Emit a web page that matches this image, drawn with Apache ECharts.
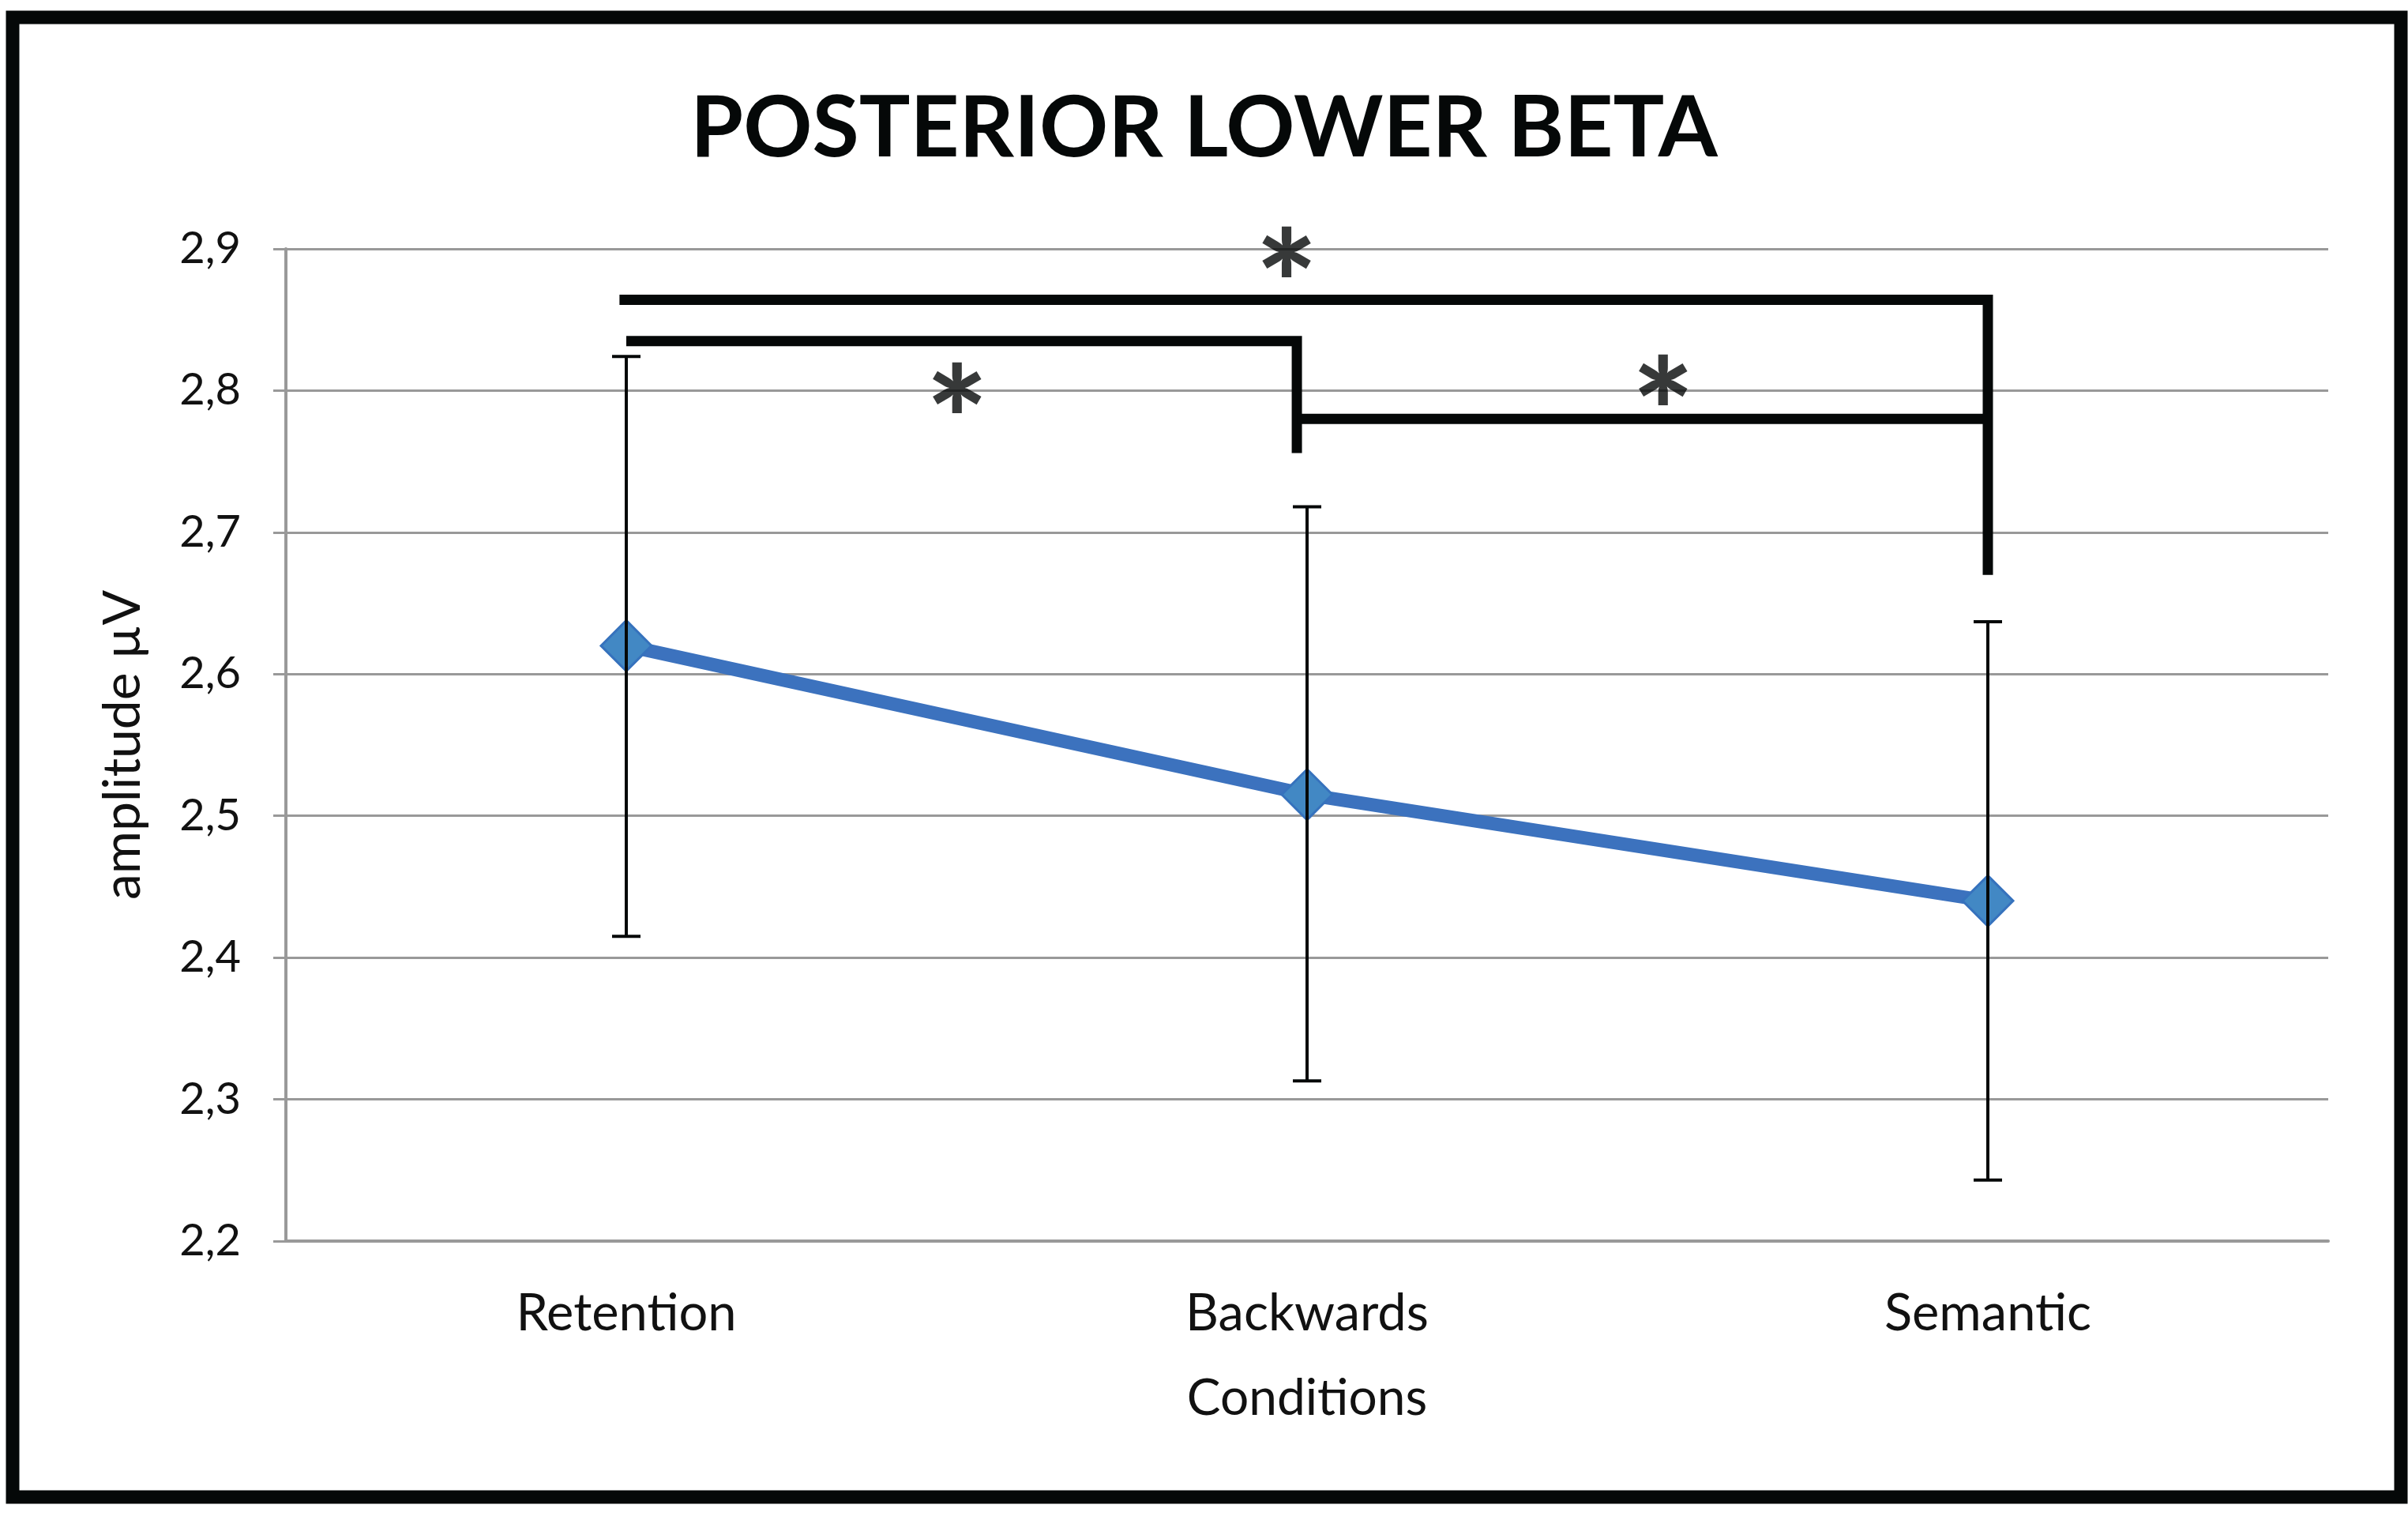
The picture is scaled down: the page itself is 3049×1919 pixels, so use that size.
<!DOCTYPE html>
<html><head><meta charset="utf-8">
<script src="https://cdn.jsdelivr.net/npm/echarts@6/dist/echarts.min.js"></script>
<style>html,body{margin:0;padding:0;background:#fff}#c{width:3049px;height:1919px}</style>
</head><body><div id="c"></div>
<script>
const categories = ['Retention', 'Backwards', 'Semantic'];
const means = [2.62, 2.515, 2.44];
const errLow = [2.415, 2.313, 2.243];
const errHigh = [2.824, 2.718, 2.637];
const yTicks = [2.2, 2.3, 2.4, 2.5, 2.6, 2.7, 2.8, 2.9];
// significance brackets: [x, y] in category units
const bracketAll = [[-0.01, 2.864], [2, 2.864], [2, 2.670]];
const bracketLeft = [[0, 2.835], [0.985, 2.835], [0.985, 2.756]];
const bracketRight = [[0.985, 2.780], [2, 2.780]];
const stars = [[0.97, 2.897], [0.486, 2.801], [1.523, 2.807]];

const FONT = 'Lato';
const chart = echarts.init(document.getElementById('c'));
const bracketStyle = (w) => ({ type: 'line', xAxisIndex: 1, symbol: 'none', silent: true,
  lineStyle: { color: '#050808', width: w, cap: 'butt', join: 'miter' }, z: 5 });
chart.setOption({
  animation: false,
  backgroundColor: '#fff',
  title: { text: 'POSTERIOR LOWER BETA', left: 'center', top: 104,
    textStyle: { fontFamily: FONT, fontWeight: 'bold', fontSize: 108, color: '#050808' } },
  grid: { left: 362, right: 101, top: 315, bottom: 348 },
  xAxis: [{
    type: 'category', data: categories, boundaryGap: true,
    name: 'Conditions', nameLocation: 'middle', nameGap: 167,
    nameTextStyle: { fontFamily: FONT, fontSize: 64, color: '#111' },
    axisLine: { lineStyle: { color: '#999', width: 4 } },
    axisTick: { show: false },
    axisLabel: { fontFamily: FONT, fontSize: 65, color: '#111', margin: 60 }
  }, {
    type: 'value', min: -0.5, max: 2.5, show: false
  }],
  yAxis: {
    type: 'value', min: yTicks[0], max: yTicks[yTicks.length - 1], interval: 0.1,
    name: 'amplitude µV', nameLocation: 'middle', nameGap: 173,
    nameTextStyle: { fontFamily: FONT, fontSize: 66, color: '#111' },
    axisLine: { show: true, onZero: false, lineStyle: { color: '#999', width: 4 } },
    axisTick: { show: true, length: 16, lineStyle: { color: '#999', width: 3 } },
    splitLine: { lineStyle: { color: '#999', width: 3 } },
    axisLabel: { fontFamily: FONT, fontSize: 56, color: '#111', margin: 57,
      formatter: v => v.toFixed(1).replace('.', ',') }
  },
  series: [
    {
      type: 'line', data: means, z: 3,
      symbol: 'diamond', symbolSize: 64,
      itemStyle: { color: '#4288C4', borderColor: '#3672BD', borderWidth: 3 },
      lineStyle: { color: '#3C72BE', width: 17 }
    },
    {
      type: 'custom', z: 4, silent: true,
      data: categories.map((c, i) => [i, errLow[i], errHigh[i]]),
      renderItem: (params, api) => {
        const lo = api.coord([api.value(0), api.value(1)]);
        const hi = api.coord([api.value(0), api.value(2)]);
        const cw = 18;
        const st = { stroke: '#050808', lineWidth: 4, fill: null };
        return { type: 'group', children: [
          { type: 'line', shape: { x1: lo[0], y1: lo[1], x2: hi[0], y2: hi[1] }, style: st },
          { type: 'line', shape: { x1: lo[0] - cw, y1: lo[1], x2: lo[0] + cw, y2: lo[1] }, style: st },
          { type: 'line', shape: { x1: hi[0] - cw, y1: hi[1], x2: hi[0] + cw, y2: hi[1] }, style: st }
        ]};
      }
    },
    Object.assign(bracketStyle(13), { data: bracketAll }),
    Object.assign(bracketStyle(13), { data: bracketLeft }),
    Object.assign(bracketStyle(13), { data: bracketRight }),
    {
      type: 'scatter', xAxisIndex: 1, data: stars, symbolSize: 1, silent: true, z: 6,
      itemStyle: { color: 'transparent' },
      label: { show: true, position: 'inside', formatter: '*', offset: [0, 48],
        fontFamily: FONT, fontWeight: 900, fontSize: 185, color: '#050808' }
    }
  ],
  graphic: [{
    type: 'rect', silent: true,
    shape: { x: 16, y: 22, width: 3024, height: 1873 },
    style: { fill: null, stroke: '#050808', lineWidth: 17 }
  }]
});
</script></body></html>
